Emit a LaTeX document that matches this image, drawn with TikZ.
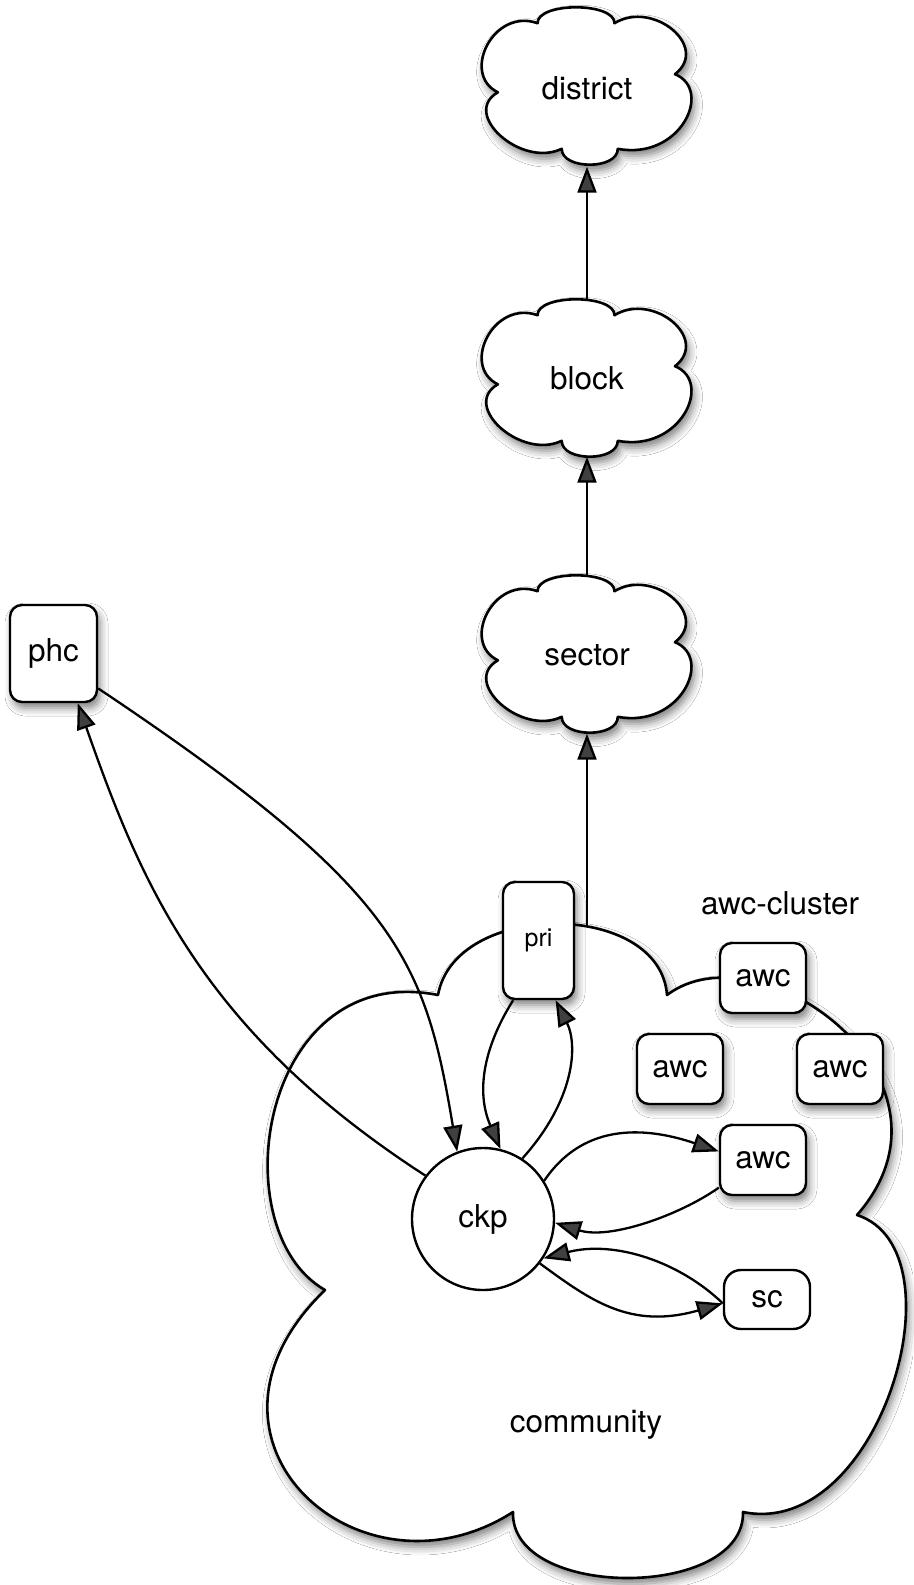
\documentclass[tikz,border=0pt]{standalone}
\usepackage{fontspec}
\setmainfont{TeX Gyre Heros}
\usetikzlibrary{arrows.meta,shadows.blur}
\tikzset{
  shad/.style={blur shadow={shadow xshift=3pt, shadow yshift=-6pt, shadow blur radius=8pt, shadow opacity=50}},
  cloudsty/.style={draw, line width=2.6pt, fill=white, line join=round, shad},
  boxsty/.style={draw, line width=2.4pt, fill=white, rounded corners=12pt, inner sep=0pt, font=\fontsize{31.5}{36}\selectfont},
  lbl/.style={font=\fontsize{31.5}{36}\selectfont, inner sep=0pt},
  cloudlbl/.style={lbl, minimum width=210pt, minimum height=157pt},
  arr/.style={line width=2.3pt, -{Triangle[length=26pt,width=19pt]}},
}
\newcommand\smallcloud[1]{%
  \begin{scope}[shift={#1}]
    \draw[cloudsty] (-49.5,-62.8)
      .. controls (-49.5,-84.0) and (27.5,-84.0) .. (27.5,-62.8)
      .. controls (66,-86.4) and (123.2,-39.3) .. (88,-11.8)
      .. controls (126.5,3.9) and (93.5,74.6) .. (30.8,62.8)
      .. controls (30.8,84.0) and (-25.3,84.0) .. (-25.3,62.8)
      .. controls (-66,82.4) and (-126.5,27.5) .. (-89.1,6.3)
      .. controls (-126.5,-11.8) and (-93.5,-78.5) .. (-49.5,-62.8) -- cycle;
  \end{scope}}
\begin{document}
\begin{tikzpicture}[x=1pt,y=-1pt]
  \fill[white] (0,0) rectangle (913,1585);
  \useasboundingbox (0,0) rectangle (913,1585);

  % community cloud
  \draw[cloudsty] (438,995)
    .. controls (455,900) and (660,900) .. (667,995)
    .. controls (760,925) and (975,1080) .. (857,1215)
    .. controls (965,1250) and (880,1540) .. (743,1512)
    .. controls (745,1600) and (510,1600) .. (513,1512)
    .. controls (360,1610) and (170,1440) .. (325,1290)
    .. controls (220,1230) and (260,960) .. (438,995) -- cycle;
  \node[lbl] (community) at (586,1425) {community};
  \node[lbl] (cluster) at (780,903) {awc-cluster};
  \coordinate (commtop) at (587,927);

  % small clouds
  \smallcloud{(587,86)}
  \smallcloud{(587,378)}
  \smallcloud{(587,654)}
  \node[cloudlbl] (district) at (587,88) {district};
  \node[cloudlbl] (block) at (587,378) {block};
  \node[cloudlbl] (sector) at (587,655) {sector};

  % boxes
  \node[boxsty, shad, minimum width=87pt, minimum height=97pt] (phc) at (53.5,653.5) {phc};
  \node[boxsty, shad, minimum width=71pt, minimum height=117pt, font=\fontsize{25}{30}\selectfont] (pri) at (538.5,940.5) {pri};
  \node[boxsty, shad, minimum width=86pt, minimum height=70pt] (awc1) at (763,978) {awc};
  \node[boxsty, shad, minimum width=86pt, minimum height=70pt] (awc2) at (680,1069) {awc};
  \node[boxsty, shad, minimum width=86pt, minimum height=70pt] (awc3) at (840,1069) {awc};
  \node[boxsty, shad, minimum width=86pt, minimum height=70pt] (awc4) at (763,1160) {awc};
  \node[boxsty, rounded corners=17pt, minimum width=86pt, minimum height=59pt] (sc) at (767,1299.5) {sc};
  \node[circle, draw, line width=2.4pt, fill=white, minimum size=142pt, inner sep=0pt, font=\fontsize{31.5}{36}\selectfont] (ckp) at (483,1219) {ckp};

  % vertical arrows
  \draw[arr] (commtop) -- (sector.south);
  \draw[arr] (sector.north) -- (block.south);
  \draw[arr] (block.north) -- (district.south);

  % curved connectors
  \draw[arr] (phc.-38) .. controls (400,890) and (425,960) .. (ckp.111.5);
  \draw[arr] (ckp.143) .. controls (200,1030) and (140,880) .. (phc.-64);
  \draw[arr] (pri.-113.6) .. controls (485,1045) and (475,1090) .. (ckp.76.5);
  \draw[arr] (ckp.57) .. controls (575,1100) and (578,1045) .. (pri.-74);
  \draw[arr] (ckp.32) .. controls (585,1120) and (650,1128) .. (awc4.169.5);
  \draw[arr] (awc4.-148) .. controls (680,1215) and (610,1240) .. (ckp.-3);
  \draw[arr] (sc.-175) .. controls (680,1262) and (615,1240) .. (ckp.-33);
  \draw[arr] (ckp.-38) .. controls (590,1300) and (630,1330) .. (sc.-175);
\end{tikzpicture}
\end{document}
